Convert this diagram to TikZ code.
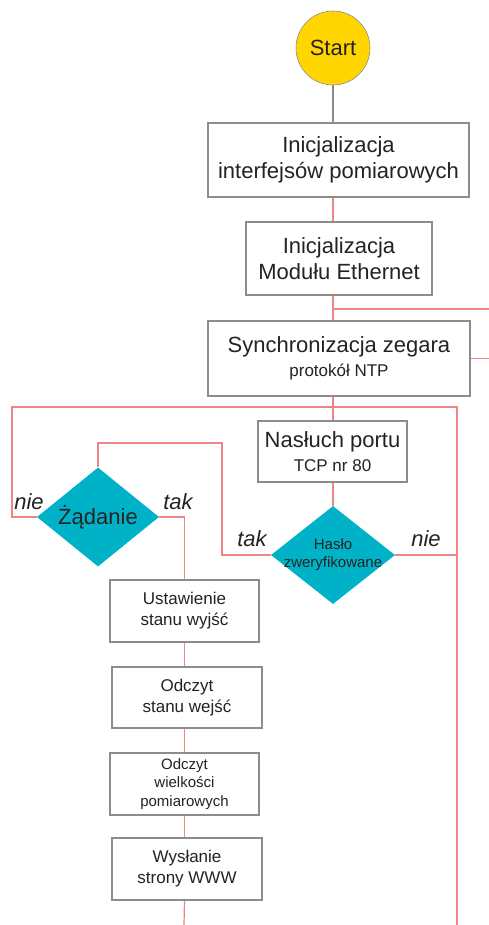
\documentclass[tikz,border=0pt]{standalone}
\usepackage{fontspec}
\setmainfont{Liberation Sans}
\usetikzlibrary{shapes.geometric}
\definecolor{linkred}{RGB}{234,134,134}
\definecolor{boxgray}{RGB}{140,140,140}
\definecolor{decteal}{RGB}{0,178,200}
\definecolor{startyellow}{RGB}{255,214,0}
\definecolor{txtgray}{RGB}{35,35,35}
\tikzset{
	box/.style={draw=boxgray,line width=1.4pt,fill=white,align=center,inner sep=0pt,text=txtgray},
	decision/.style={diamond,fill=decteal,draw=none,align=center,inner sep=0pt,text=txtgray},
	startnode/.style={circle,fill=startyellow,draw=boxgray,line width=0.6pt,minimum size=74pt,inner sep=0pt,text=txtgray},
	link/.style={draw=linkred,line width=1.2pt},
	grayline/.style={draw=boxgray,line width=1.2pt},
	answer/.style={inner sep=0pt,text=txtgray,font=\fontsize{22}{26}\selectfont\itshape}
}
\newcommand{\bigtxt}{\fontsize{22}{26.5}\selectfont}
\newcommand{\midtxt}{\fontsize{17}{21}\selectfont}
\begin{document}
\begin{tikzpicture}[x=1pt,y=-1pt]
        \useasboundingbox (0,0) rectangle (489,925);
        \node[startnode,font=\bigtxt] (start) at (333,48) {Start};
        \node[box,font=\bigtxt,minimum width=261,minimum height=74] (init) at (338.5,160) {Inicjalizacja\\interfejsów pomiarowych};
        \node[box,font=\bigtxt,minimum width=186,minimum height=73] (eth) at (339,258.5) {Inicjalizacja\\Modułu Ethernet};
        \node[box,font=\bigtxt,minimum width=262,minimum height=75] (sync) at (339,358.5) {Synchronizacja zegara\\[-3pt]{\midtxt protokół NTP}};
        \node[box,font=\bigtxt,minimum width=149,minimum height=61] (port) at (332.5,451.5) {Nasłuch portu\\[-3pt]{\midtxt TCP nr 80}};
        \node[decision,font=\fontsize{15}{18}\selectfont,shape aspect=1.265,inner sep=-3.5pt,minimum width=124,minimum height=98] (haslo) at (333,555) {Hasło\\zweryfikowane};
        \node[decision,font=\bigtxt,shape aspect=1.23,minimum width=122,minimum height=99] (zadanie) at (98,517) {Żądanie};
        \node[box,font=\midtxt,minimum width=149,minimum height=62] (ustaw) at (184.5,611) {Ustawienie\\stanu wyjść};
        \node[box,font=\midtxt,minimum width=150,minimum height=61] (wejscia) at (187,697.5) {Odczyt\\stanu wejść};
        \node[box,font=\fontsize{15}{18.5}\selectfont,minimum width=149,minimum height=62] (pomiary) at (184.5,784) {Odczyt\\wielkości\\pomiarowych};
        \node[box,font=\midtxt,minimum width=150,minimum height=62] (www) at (187,869) {Wysłanie\\strony WWW};
        \coordinate (topL) at (12,407);
        \coordinate (topR) at (457,407);
        \coordinate (botR) at (457,925);
        \coordinate (botL) at (184,925);
        \coordinate (outA) at (489,309);
        \coordinate (outB) at (489,358.5);
        \coordinate (turn) at (222,443);
        \draw[grayline] (start.south) -- (start |- init.north);
        \draw[link] (init.south -| start) -- (eth.north -| start);
        \draw[link] (eth.south -| start) -- (sync.north -| start);
        \draw[link] (start |- outA) -- (outA);
        \draw[link] (sync.east) -- (outB);
        \draw[link] (sync.south -| start) -- (port.north -| start);
        \draw[link] (zadanie.west) -| (topL) -- (topR) -- (botR);
        \draw[link] (port.south -| start) -- (haslo.north);
        \draw[link] (haslo.east) -- (haslo.east -| topR);
        \draw[link] (haslo.west) -| (turn) -| (zadanie.north);
        \draw[link] (zadanie.east) -| (ustaw.north);
        \draw[link] (ustaw.south) -- (ustaw.south |- wejscia.north);
        \draw[link] (wejscia.south -| ustaw) -- (pomiary.north);
        \draw[link] (pomiary.south) -- (pomiary.south |- www.north);
        \draw[link] (www.south -| ustaw) -- (botL);
        \node[answer] (nieZ) at (29,502) {nie};
        \node[answer] (takZ) at (178,502) {tak};
        \node[answer] (takH) at (252,539) {tak};
        \node[answer] (nieH) at (426,539) {nie};
    \end{tikzpicture}
\end{document}
